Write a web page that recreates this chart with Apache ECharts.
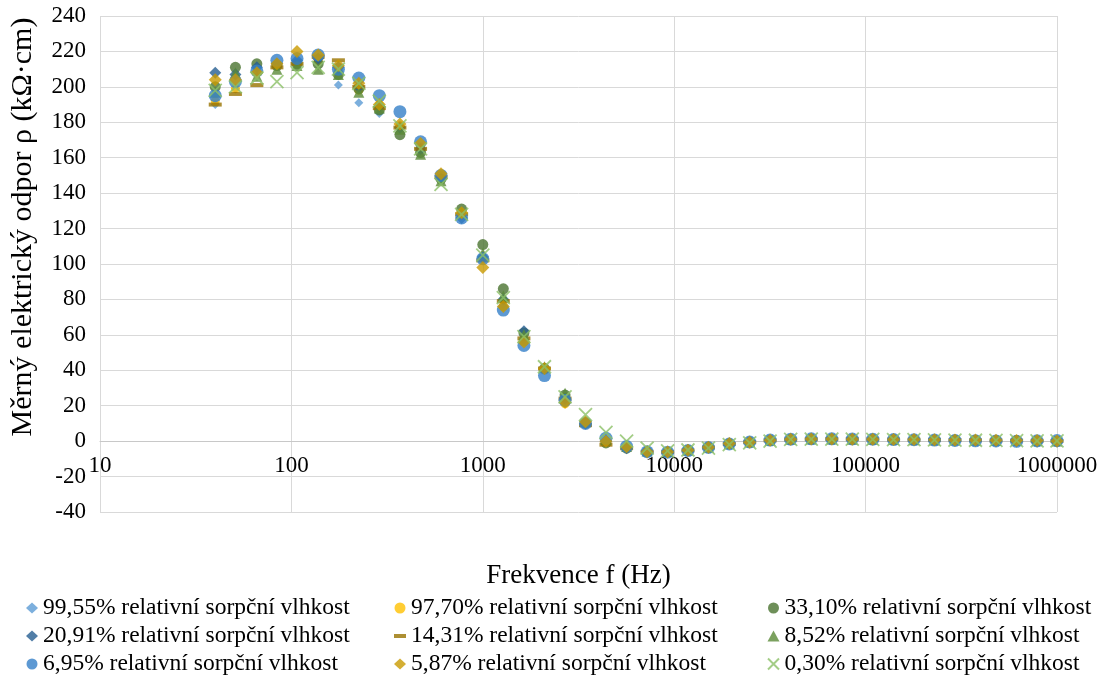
<!DOCTYPE html>
<html>
<head>
<meta charset="utf-8">
<title>Měrný elektrický odpor</title>
<script src="https://cdn.jsdelivr.net/npm/echarts@6/dist/echarts.min.js"></script>
<style>
  html, body { margin: 0; padding: 0; background: #fff; }
  #chart { width: 1106px; height: 679px; }
</style>
</head>
<body>
<div id="chart"></div>
<script>
// Measurement frequencies (Hz), logarithmic sweep 40 Hz – 1 MHz
const freqHz = [40, 51, 66, 84, 107, 138, 176, 225, 288, 369, 473, 605, 775, 1000,
  1280, 1640, 2100, 2690, 3440, 4400, 5640, 7220, 9240, 11800, 15100, 19400, 24800,
  31700, 40600, 52000, 66600, 85200, 109000, 140000, 179000, 229000, 293000, 375000,
  480000, 615000, 787000, 1000000];

// Resistivity ρ (kΩ·cm) for each relative sorption moisture level
const rh9955 = [190, 199, 207, 213, 215, 214, 201, 191, 185, 178, 164, 148, 127, 104, 77, 57, 40, 25, 11, 1,
  -3.5, -5.8, -6.2, -5.2, -3.6, -1.6, -0.6, 0.4, 0.9, 1.1, 1.1, 1.0, 0.9, 0.8, 0.7, 0.6, 0.5, 0.4, 0.3, 0.2, 0.1, 0.0];
const rh9770 = [192, 199, 208, 212, 213, 215, 210, 198, 190, 178, 166, 150, 128, 103, 76, 56, 40, 21, 10, 0,
  -4, -6, -6.3, -5.3, -3.7, -1.7, -0.7, 0.4, 0.9, 1.1, 1.2, 1.1, 1.0, 0.9, 0.8, 0.7, 0.6, 0.5, 0.4, 0.3, 0.2, 0.1];
const rh3310 = [200, 211, 213, 212, 213, 213, 207, 199, 187, 173, 163, 148, 131, 111, 86, 61, 41, 26, 10, -1,
  -4, -6, -6.2, -5.1, -3.5, -1.5, -0.5, 0.5, 1.0, 1.2, 1.2, 1.1, 1.0, 0.9, 0.8, 0.7, 0.6, 0.5, 0.4, 0.3, 0.2, 0.1];
const rh2091 = [208, 207, 211, 213, 215, 216, 211, 200, 189, 177, 165, 148, 126, 104, 80, 62, 41, 24, 10, 0,
  -4, -5.8, -6, -5, -3.4, -1.4, -0.4, 0.5, 1.0, 1.2, 1.3, 1.2, 1.1, 1.0, 0.8, 0.6, 0.4, 0.2, 0.0, -0.2, -0.3, -0.4];
const rh1431 = [190, 196, 201, 211, 213, 217, 215, 200, 188, 177, 165, 149, 128, 102, 79, 58, 41, 24, 9, -2,
  -4, -6, -6.2, -5.2, -3.6, -1.6, -0.6, 0.4, 0.9, 1.1, 1.2, 1.1, 1.0, 0.9, 0.8, 0.7, 0.6, 0.5, 0.4, 0.3, 0.2, 0.1];
const rh852 = [197, 208, 206, 210, 212, 210, 207, 197, 188, 176, 162, 147, 129, 106, 82, 60, 42, 27, 11, 1,
  -3, -5.6, -6, -5, -3.5, -1.5, -0.5, 0.5, 1.0, 1.2, 1.2, 1.1, 1.0, 0.9, 0.8, 0.7, 0.6, 0.5, 0.4, 0.3, 0.2, 0.1];
const rh695 = [195, 203, 209, 215, 216, 218, 210, 205, 195, 186, 169, 150, 126, 103, 74, 54, 37, 23, 10, 1.7,
  -3, -6, -6.2, -5.3, -3.6, -1.6, -0.5, 0.6, 1.1, 1.3, 1.3, 1.2, 1.1, 0.9, 0.8, 0.6, 0.4, 0.2, 0.1, -0.1, 0.2, 0.3];
const rh587 = [204, 204, 208, 213, 220, 218, 212, 202, 190, 179, 168, 151, 129, 98, 76, 56, 41, 22, 11, 0,
  -3.2, -6, -6.1, -5.1, -3.4, -1.4, -0.6, 0.5, 1.0, 1.2, 1.2, 1.1, 1.0, 0.9, 0.9, 0.8, 0.7, 0.6, 0.5, 0.4, 0.3, 0.1];
const rh030 = [198, 200, 205, 203, 208, 211, 210, 202, 192, 178, 165, 145, 128, 105, 81, 59, 42, 25, 15, 5,
  0, -4, -5.5, -5, -4, -2, -1, 0, 1, 1.2, 1.2, 1.1, 1.0, 0.9, 0.8, 0.7, 0.6, 0.5, 0.4, 0.3, 0.2, 0.1];

const seriesNames = [
  '99,55% relativní sorpční vlhkost',
  '97,70% relativní sorpční vlhkost',
  '33,10% relativní sorpční vlhkost',
  '20,91% relativní sorpční vlhkost',
  '14,31% relativní sorpční vlhkost',
  '8,52% relativní sorpční vlhkost',
  '6,95% relativní sorpční vlhkost',
  '5,87% relativní sorpční vlhkost',
  '0,30% relativní sorpční vlhkost'
];
const seriesValues = [rh9955, rh9770, rh3310, rh2091, rh1431, rh852, rh695, rh587, rh030];

const xAxisTitle = 'Frekvence f (Hz)';
const yAxisTitle = 'Měrný elektrický odpor ρ (kΩ·cm)';

const FONT = '"Liberation Serif", "Times New Roman", serif';
const CROSS = 'path://M0,0L10,10M10,0L0,10';
const DASH = 'path://M0,0H12V4H0Z';

// marker style per series
const markers = [
  { symbol: 'diamond', size: 9, color: '#5B9BD5' },
  { symbol: 'circle', size: 9, color: '#FFC000' },
  { symbol: 'circle', size: 11, color: '#4A7330' },
  { symbol: 'diamond', size: 12, color: '#255E91' },
  { symbol: DASH, size: [13, 4], color: '#997300' },
  { symbol: 'triangle', size: 11, color: '#5A8A37' },
  { symbol: 'circle', size: 13, color: '#3480C8' },
  { symbol: 'diamond', size: 13, color: '#C99A00' },
  { symbol: CROSS, size: 13, color: '#8CC168', stroke: true }
];

const series = seriesNames.map((name, i) => {
  const m = markers[i];
  return {
    name: name,
    type: 'scatter',
    symbol: m.symbol,
    symbolSize: m.size,
    itemStyle: m.stroke
      ? { color: m.color, borderColor: m.color, borderWidth: 1.8 }
      : { color: m.color },
    emphasis: { disabled: true },
    data: freqHz.map((f, j) => [f, seriesValues[i][j]])
  };
});

// one legend block per column, three entries stacked vertically
function legendColumn(names, left) {
  return {
    data: names.map((n) => ({ name: n, icon: markers[seriesNames.indexOf(n)].symbol })),
    orient: 'vertical',
    left: left,
    top: 596,
    height: 82,
    padding: 0,
    itemWidth: 12,
    itemHeight: 11,
    itemGap: 4,
    selectedMode: false,
    textStyle: { fontFamily: FONT, fontSize: 23.5, color: '#000', lineHeight: 23 }
  };
}

const chart = echarts.init(document.getElementById('chart'), null, { renderer: 'canvas' });
chart.setOption({
  animation: false,
  backgroundColor: '#fff',
  grid: { left: 100, right: 49, top: 16, bottom: 167 },
  xAxis: {
    type: 'log',
    logBase: 10,
    min: 10,
    max: 1000000,
    offset: -71,
    name: xAxisTitle,
    nameLocation: 'middle',
    nameGap: 121,
    nameTextStyle: { fontFamily: FONT, fontSize: 27, color: '#000' },
    axisLine: { onZero: false, lineStyle: { color: '#C8C8C8', width: 1 } },
    axisTick: { show: false },
    axisLabel: {
      margin: 13,
      fontFamily: FONT,
      fontSize: 23,
      color: '#000',
      formatter: (v) => String(Math.round(v))
    },
    splitLine: { show: true, lineStyle: { color: '#D9D9D9', width: 1 } },
    minorTick: { show: false },
    minorSplitLine: { show: false }
  },
  yAxis: {
    type: 'value',
    min: -40,
    max: 240,
    interval: 20,
    axisLine: { show: false },
    axisTick: { show: false },
    axisLabel: { margin: 14, fontFamily: FONT, fontSize: 23, color: '#000' },
    splitLine: { show: true, lineStyle: { color: '#D9D9D9', width: 1 } }
  },
  legend: [
    legendColumn([seriesNames[0], seriesNames[3], seriesNames[6]], 26),
    legendColumn([seriesNames[1], seriesNames[4], seriesNames[7]], 394),
    legendColumn([seriesNames[2], seriesNames[5], seriesNames[8]], 767)
  ],
  graphic: [{
    type: 'text',
    x: 23,
    y: 227,
    rotation: Math.PI / 2,
    style: {
      text: yAxisTitle,
      fontFamily: FONT,
      fontSize: 30,
      fill: '#000',
      align: 'center',
      verticalAlign: 'middle'
    }
  }],
  series: series
});
</script>
</body>
</html>
